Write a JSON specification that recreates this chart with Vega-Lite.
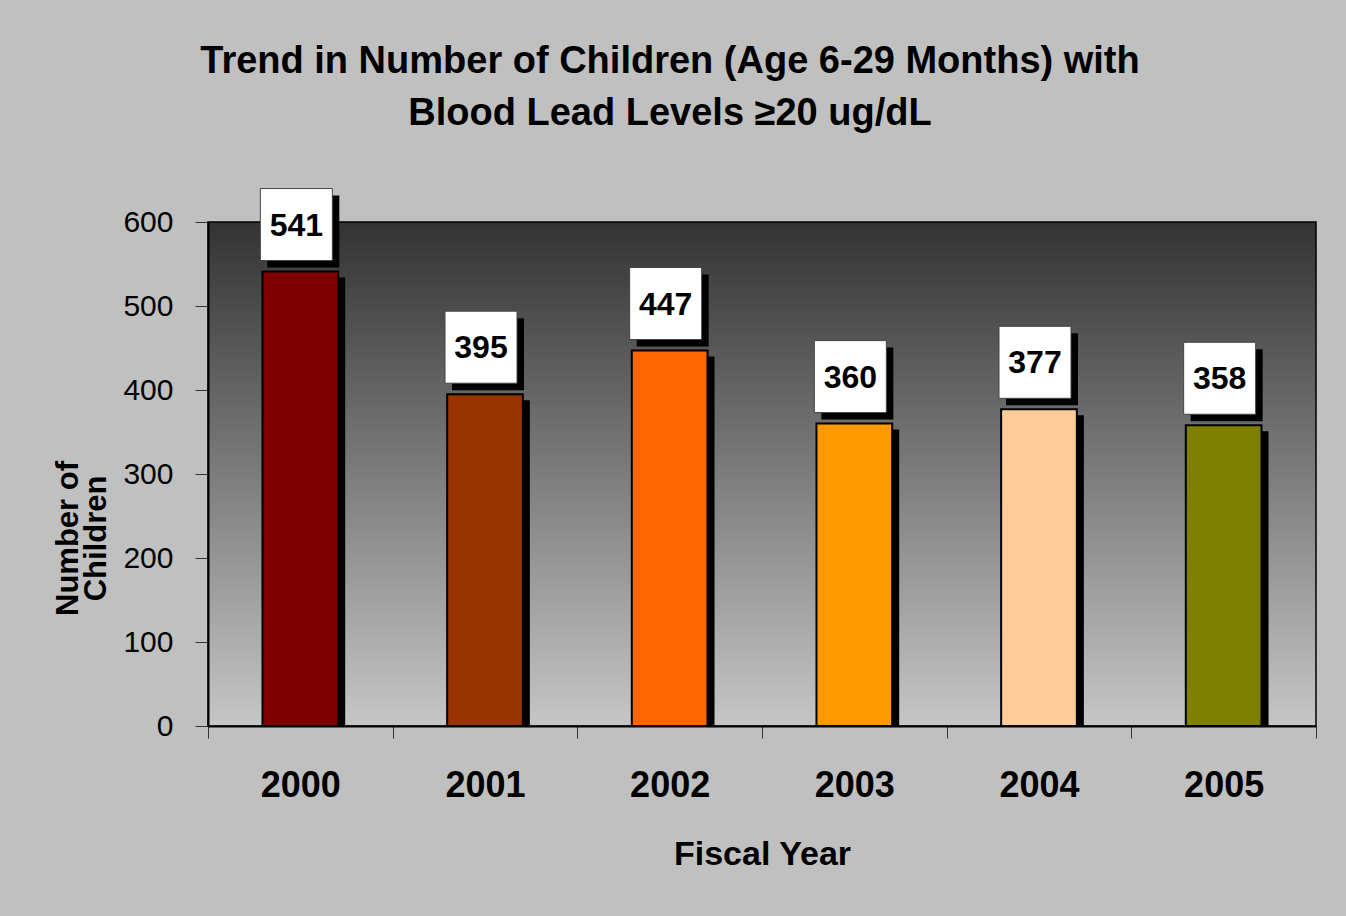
{
  "$schema": "https://vega.github.io/schema/vega-lite/v6.json",
  "width": 1108,
  "height": 504,
  "autosize": {"type": "none"},
  "padding": {"left": 208, "top": 222, "right": 30, "bottom": 190},
  "background": "#c0c0c0",
  "title": {
    "text": ["Trend in Number of Children (Age 6-29 Months) with", "Blood Lead Levels ≥20 ug/dL"],
    "anchor": "middle",
    "dx": -92,
    "offset": 54,
    "fontSize": 38,
    "fontWeight": "bold",
    "lineHeight": 52,
    "color": "#000000"
  },
  "data": {
    "values": [
      {"year": "2000", "children": 541},
      {"year": "2001", "children": 395},
      {"year": "2002", "children": 447},
      {"year": "2003", "children": 360},
      {"year": "2004", "children": 377},
      {"year": "2005", "children": 358}
    ]
  },
  "encoding": {
    "x": {
      "field": "year",
      "type": "ordinal",
      "scale": {"paddingInner": 0, "paddingOuter": 0},
      "axis": {
        "title": "Fiscal Year",
        "labelAngle": 0,
        "labelFontSize": 36,
        "labelFontWeight": "bold",
        "labelColor": "#000000",
        "labelPadding": 30,
        "tickBand": "extent",
        "tickSize": 12,
        "tickColor": "#333333",
        "tickWidth": 1,
        "domainColor": "#000000",
        "domainWidth": 2,
        "titleFontSize": 34,
        "titleFontWeight": "bold",
        "titleColor": "#000000",
        "titlePadding": 34
      }
    },
    "y": {
      "field": "children",
      "type": "quantitative",
      "scale": {"domain": [0, 600]},
      "axis": {
        "values": [0, 100, 200, 300, 400, 500, 600],
        "grid": false,
        "title": ["Number of", "Children"],
        "labelFontSize": 30,
        "labelColor": "#000000",
        "labelPadding": 22,
        "tickSize": 13,
        "tickColor": "#333333",
        "tickWidth": 1,
        "domainColor": "#000000",
        "domainWidth": 2,
        "titleFontSize": 31,
        "titleFontWeight": "bold",
        "titleColor": "#000000",
        "titleLineHeight": 28,
        "titleX": -124,
        "titleY": 316
      }
    }
  },
  "layer": [
    {
      "mark": {"type": "bar", "width": {"band": 0.41}, "color": "#000000", "xOffset": 7, "yOffset": 6, "y2Offset": 0},
      "encoding": {"y2": {"datum": 0}}
    },
    {
      "mark": {"type": "bar", "width": {"band": 0.41}, "stroke": "#000000", "strokeWidth": 2},
      "encoding": {
        "color": {
          "field": "year",
          "type": "nominal",
          "scale": {
            "domain": ["2000", "2001", "2002", "2003", "2004", "2005"],
            "range": ["#800000", "#993300", "#ff6600", "#ff9900", "#ffcc99", "#808000"]
          },
          "legend": null
        }
      }
    },
    {
      "mark": {"type": "point", "shape": "square", "size": 5184, "filled": true, "color": "#000000", "opacity": 1, "xOffset": 3, "yOffset": -40}
    },
    {
      "mark": {"type": "point", "shape": "square", "size": 5184, "filled": true, "fill": "#ffffff", "stroke": "#444444", "strokeWidth": 1, "opacity": 1, "fillOpacity": 1, "xOffset": -4, "yOffset": -47}
    },
    {
      "mark": {"type": "text", "fontSize": 32, "fontWeight": "bold", "color": "#000000", "baseline": "middle", "align": "center", "xOffset": -4, "yOffset": -46},
      "encoding": {"text": {"field": "children", "type": "quantitative"}}
    }
  ],
  "config": {
    "font": "Liberation Sans Narrow, Liberation Sans, Arial, sans-serif",
    "view": {
      "fill": {
        "gradient": "linear",
        "x1": 0, "y1": 0, "x2": 0, "y2": 1,
        "stops": [
          {"offset": 0, "color": "#333333"},
          {"offset": 1, "color": "#c6c6c6"}
        ]
      },
      "stroke": "#000000",
      "strokeWidth": 1.5
    }
  }
}
